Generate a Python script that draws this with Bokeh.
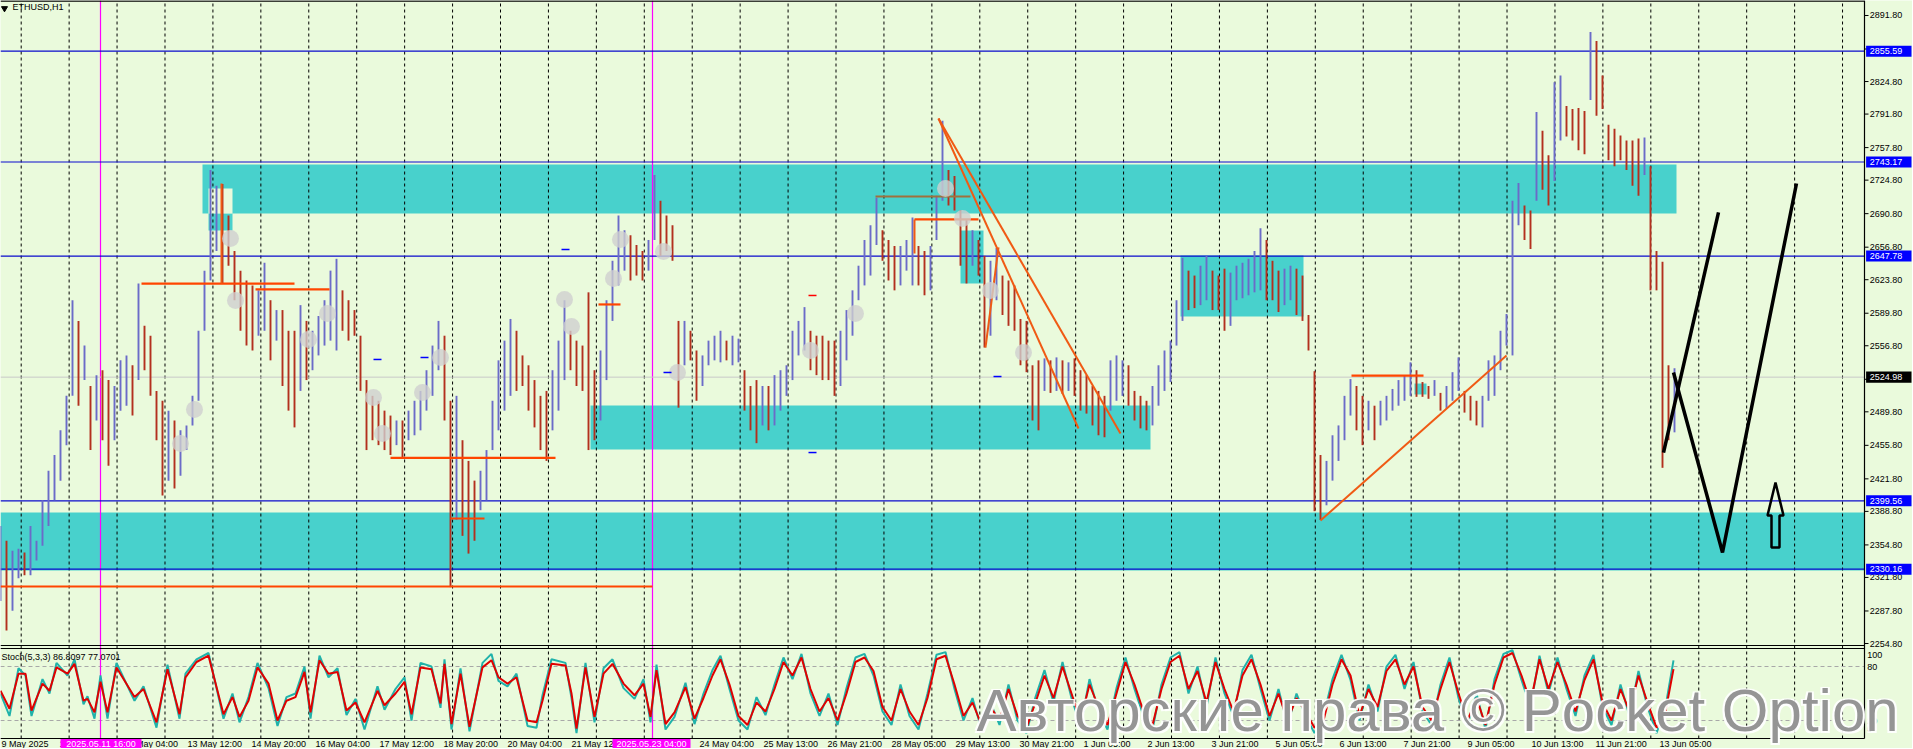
from bokeh.plotting import figure
from bokeh.models import Range1d, ColumnDataSource
from bokeh.core.properties import value
from bokeh.embed import file_html
from bokeh.resources import INLINE

# ---------------- data ----------------
SYMBOL = "ETHUSD,H1"
STOCH_TITLE = "Stoch(5,3,3) 86.8097 77.0701"
WATERMARK = "Авторские права © Pocket Option"

BAR_HOURS = 3  # one entry every 3 hours, hour 0 = left edge of the chart
price_bars = [  # (high, low)
    (2374, 2298), (2359, 2268), (2349, 2288), (2351, 2321), (2347, 2324), (2374, 2324), (2359, 2339), (2400, 2354),
    (2430, 2374), (2446, 2400), (2471, 2420), (2506, 2456), (2603, 2506), (2582, 2496), (2557, 2522), (2516, 2451),
    (2527, 2481), (2532, 2461), (2522, 2435), (2516, 2461), (2542, 2491), (2547, 2496), (2537, 2486), (2620, 2522),
    (2577, 2532), (2567, 2506), (2511, 2461), (2501, 2405), (2491, 2420), (2481, 2412), (2471, 2425), (2476, 2451),
    (2506, 2476), (2572, 2501), (2633, 2572), (2735, 2623), (2719, 2653), (2721, 2620), (2689, 2638), (2653, 2603),
    (2633, 2572), (2623, 2557), (2618, 2552), (2613, 2567), (2641, 2572), (2603, 2542), (2593, 2562), (2593, 2516),
    (2572, 2491), (2572, 2474), (2598, 2511), (2582, 2522), (2572, 2532), (2587, 2547), (2603, 2557), (2633, 2562),
    (2645, 2552), (2613, 2572), (2603, 2562), (2593, 2567), (2567, 2511), (2522, 2451), (2506, 2461), (2501, 2456),
    (2491, 2451), (2486, 2446), (2481, 2456), (2481, 2442), (2491, 2461), (2501, 2466), (2511, 2471), (2532, 2491),
    (2557, 2506), (2582, 2532), (2567, 2481), (2501, 2312), (2506, 2380), (2461, 2364), (2440, 2346), (2420, 2359),
    (2430, 2390), (2451, 2400), (2501, 2451), (2542, 2471), (2562, 2491), (2584, 2506), (2572, 2511), (2547, 2516),
    (2537, 2491), (2522, 2474), (2506, 2451), (2511, 2440), (2532, 2471), (2562, 2491), (2603, 2522), (2572, 2532),
    (2562, 2516), (2557, 2511), (2611, 2451), (2532, 2461), (2552, 2481), (2603, 2522), (2643, 2582), (2689, 2618),
    (2674, 2633), (2669, 2623), (2659, 2628), (2653, 2623), (2664, 2633), (2730, 2664), (2704, 2648), (2689, 2653),
    (2679, 2643), (2582, 2494), (2582, 2537), (2572, 2542), (2552, 2501), (2547, 2516), (2562, 2537), (2567, 2542),
    (2572, 2540), (2562, 2542), (2567, 2537), (2564, 2540), (2532, 2491), (2516, 2471), (2522, 2458), (2516, 2476),
    (2516, 2471), (2527, 2476), (2532, 2491), (2537, 2506), (2572, 2522), (2582, 2547), (2596, 2552), (2572, 2532),
    (2567, 2527), (2567, 2522), (2562, 2522), (2562, 2506), (2572, 2516), (2593, 2542), (2613, 2567), (2638, 2603),
    (2664, 2618), (2679, 2628), (2707, 2659), (2674, 2643), (2664, 2623), (2658, 2613), (2658, 2618), (2664, 2633),
    (2687, 2618), (2658, 2618), (2653, 2608), (2658, 2613), (2709, 2664), (2785, 2704), (2735, 2699), (2729, 2694),
    (2694, 2638), (2684, 2620), (2674, 2638), (2664, 2628), (2648, 2555), (2643, 2567), (2656, 2603), (2628, 2588),
    (2623, 2577), (2618, 2572), (2584, 2537), (2582, 2530), (2537, 2481), (2542, 2471), (2544, 2511), (2542, 2509),
    (2545, 2511), (2542, 2508), (2540, 2511), (2544, 2506), (2532, 2491), (2527, 2488), (2516, 2476), (2511, 2466),
    (2506, 2464), (2542, 2491), (2547, 2501), (2542, 2506), (2537, 2496), (2511, 2481), (2506, 2473), (2501, 2471),
    (2516, 2476), (2537, 2496), (2552, 2511), (2562, 2520), (2603, 2557), (2646, 2582), (2633, 2593), (2628, 2595),
    (2638, 2598), (2648, 2603), (2633, 2593), (2628, 2593), (2635, 2572), (2631, 2577), (2638, 2603), (2641, 2605),
    (2645, 2608), (2653, 2611), (2676, 2613), (2664, 2603), (2643, 2603), (2633, 2591), (2635, 2598), (2638, 2603),
    (2635, 2588), (2628, 2582), (2588, 2552), (2531, 2389), (2446, 2380), (2440, 2395), (2466, 2420), (2476, 2440),
    (2506, 2461), (2523, 2486), (2516, 2471), (2506, 2456), (2501, 2471), (2496, 2461), (2501, 2476), (2506, 2481),
    (2513, 2491), (2522, 2496), (2527, 2501), (2540, 2506), (2532, 2505), (2520, 2505), (2516, 2503), (2522, 2506),
    (2509, 2491), (2516, 2493), (2530, 2501), (2545, 2511), (2511, 2489), (2506, 2481), (2501, 2476), (2506, 2474),
    (2542, 2501), (2547, 2506), (2572, 2532), (2589, 2557), (2704, 2547), (2722, 2679), (2699, 2664), (2694, 2655),
    (2794, 2704), (2775, 2715), (2750, 2699), (2824, 2724), (2831, 2765), (2800, 2769), (2797, 2765), (2798, 2755),
    (2795, 2751), (2875, 2806), (2866, 2790), (2831, 2797), (2781, 2745), (2777, 2739), (2770, 2745), (2765, 2735),
    (2765, 2719), (2767, 2709), (2768, 2730), (2739, 2613), (2653, 2613), (2642, 2433), (2537, 2461), (2534, 2469),
]

level_prices = [2855.59, 2743.17, 2647.78, 2399.56, 2330.16]
bid_price = 2524.98
price_ticks = [2891.8, 2857.8, 2824.8, 2791.8, 2757.8, 2724.8, 2690.8, 2656.8, 2623.8, 2589.8, 2556.8, 2522.8,
               2489.8, 2455.8, 2421.8, 2388.8, 2354.8, 2321.8, 2287.8, 2254.8]

# supply / demand zones: (start hour, end hour, top, bottom)
zones = [(101, 838, 2740.7, 2691.0), (295, 575, 2496.2, 2451.6), (0, 932, 2387.7, 2328.8),
         (590, 651.5, 2648.4, 2586.5), (480, 491.5, 2673.7, 2619.9), (707, 713, 2518.5, 2507.4),
         (104, 116, 2691.0, 2673.7)]
zone_gap = [(104, 116, 2716.3, 2691.0)]

# orange horizontal levels: (start hour, end hour, price)
orange_levels = [(0, 326, 2312.6), (70.5, 147, 2619.9), (127.5, 164.5, 2613.9), (195, 277.5, 2443.0),
                 (225, 242, 2381.6), (299, 310, 2598.7), (457, 489, 2684.9), (675.5, 711.5, 2526.6)]
brown_levels = [(437.5, 485, 2708.2)]
# orange sloped lines: (hour0, price0, hour1, price1)
orange_trends = [(469, 2787.3, 560, 2467.8), (469, 2787.3, 539, 2472.9), (660, 2379.6, 753, 2546.9),
                 (457, 2684.9, 457, 2650.4), (110.5, 2721.4, 110.5, 2619.9), (492.5, 2555.0, 499, 2656.5)]

# hand-drawn forecast paths
forecast_a_h = [831.5, 859]
forecast_a_p = [2448.5, 2692.0]
forecast_b_h = [836.5, 861, 898]
forecast_b_p = [2529.7, 2347.1, 2721.4]
arrow_h = [887.5, 891.5, 889.5, 889.5, 885.5, 885.5, 883.5, 887.5]
arrow_p = [2418.1, 2384.6, 2384.6, 2352.2, 2352.2, 2384.6, 2384.6, 2418.1]

# trade markers
marker_h = [115, 117.5, 97, 90, 154, 163.5, 186.5, 191, 211, 220, 282, 285.5, 306.5, 310, 331.5, 338.5,
            405, 427.5, 472.5, 481, 495, 511.5]
marker_p = [2665.6, 2602.7, 2492.2, 2457.7, 2563.2, 2589.5, 2504.3, 2467.8, 2509.4, 2544.9, 2603.7, 2576.3,
            2625.0, 2664.6, 2652.4, 2529.7, 2552.0, 2589.5, 2716.3, 2685.9, 2612.9, 2549.9]
dash_blue_h = [188.5, 212, 282.5, 333.5, 406, 498.5]
dash_blue_p = [2542.9, 2544.9, 2654.4, 2529.7, 2448.5, 2525.6]
dash_red_h = [406]
dash_red_p = [2607.8]

# stochastic (hour, %K, %D)
stoch = [
    (0, 50, 53), (4.5, 25, 33), (9, 78, 72), (12.5, 70, 72), (15.5, 25, 31), (21, 66, 61), (24.5, 50, 53),
    (28, 84, 79), (33.5, 70, 72), (37, 88, 83), (41.5, 38, 42), (43.5, 47, 44), (47, 22, 29), (50, 70, 63),
    (53.5, 22, 29), (58, 84, 79), (67, 42, 46), (71.5, 58, 55), (78, 12, 18), (83.5, 82, 77), (89.5, 22, 27),
    (92.5, 72, 68), (98, 88, 85), (104, 95, 92), (111.5, 22, 27), (116, 50, 46), (119.5, 18, 24), (124, 46, 42),
    (128.5, 84, 79), (134, 56, 61), (138.5, 14, 20), (143, 46, 42), (147.5, 50, 46), (152, 80, 74), (155, 22, 29),
    (159.5, 92, 87), (164, 68, 72), (168.5, 78, 74), (173, 26, 31), (177.5, 44, 40), (182, 10, 18), (188.5, 58, 53),
    (192, 32, 37), (197.5, 55, 50), (202, 68, 63), (205.5, 20, 27), (210, 84, 79), (215.5, 80, 77), (220, 34, 39),
    (222, 88, 83), (225.5, 10, 16), (230, 78, 72), (234.5, 8, 13), (241, 84, 79), (245.5, 94, 87), (249, 64, 68),
    (253.5, 58, 61), (258, 72, 68), (263.5, 14, 20), (268, 12, 18), (271, 48, 42), (275.5, 88, 83), (282.5, 84, 81),
    (285.5, 45, 50), (288, 6, 11), (292.5, 84, 79), (297, 18, 24), (301.5, 78, 72), (306, 88, 83), (311.5, 56, 61),
    (317, 44, 48), (321.5, 66, 61), (325, 18, 24), (328, 82, 76), (332.5, 10, 16), (337, 24, 29), (342.5, 62, 57),
    (347, 16, 22), (351.5, 50, 45), (356, 76, 70), (360, 92, 88), (364.5, 55, 60), (369, 20, 25), (373.5, 10, 15),
    (378, 46, 40), (382.5, 26, 30), (387, 60, 55), (391.5, 90, 85), (396, 66, 70), (400.5, 94, 90), (405, 50, 55),
    (409.5, 25, 30), (414, 50, 45), (418.5, 15, 20), (423, 56, 50), (427.5, 90, 85), (432, 94, 90), (436.5, 70, 75),
    (441, 30, 35), (445.5, 15, 20), (450, 60, 55), (454.5, 25, 30), (459, 10, 15), (463.5, 50, 45), (468, 93, 88),
    (472.5, 96, 92), (477, 55, 60), (481.5, 20, 25), (486, 45, 40), (490.5, 10, 15), (495, 40, 35), (499.5, 15, 20),
    (504, 60, 55), (508.5, 20, 25), (513, 6, 12), (517.5, 46, 40), (522, 76, 70), (526.5, 40, 45), (531, 85, 80),
    (535.5, 45, 50), (540, 14, 20), (544.5, 66, 60), (549, 30, 35), (553.5, 10, 15), (558, 56, 50), (562.5, 90, 85),
    (567, 55, 60), (571.5, 25, 30), (576, 10, 15), (580.5, 60, 55), (585, 90, 85), (589.5, 96, 92), (594, 50, 55),
    (598.5, 80, 75), (603, 35, 40), (607.5, 90, 85), (612, 50, 55), (616.5, 25, 30), (621, 76, 70), (625.5, 93, 88),
    (630, 55, 60), (634.5, 20, 25), (639, 55, 50), (643.5, 15, 20), (648, 50, 45), (652.5, 25, 30), (657, 6, 12),
    (661.5, 25, 20), (666, 66, 60), (670.5, 93, 88), (675, 65, 70), (679.5, 20, 25), (684, 60, 55), (688.5, 30, 35),
    (693, 80, 75), (697.5, 93, 88), (702, 55, 60), (706.5, 85, 80), (711, 30, 35), (715.5, 15, 20), (720, 60, 55),
    (724.5, 90, 85), (729, 45, 50), (733.5, 15, 20), (738, 50, 45), (742.5, 10, 15), (747, 66, 60), (751.5, 94, 90),
    (756, 98, 95), (760.5, 65, 70), (765, 35, 40), (769.5, 92, 88), (774, 50, 55), (778.5, 90, 85), (783, 55, 60),
    (787.5, 25, 30), (792, 70, 65), (796.5, 93, 88), (801, 35, 40), (805.5, 15, 20), (810, 60, 55), (814.5, 25, 30),
    (819, 75, 70), (823.5, 35, 40), (828, 6, 12), (832.5, 35, 30), (836.5, 86.81, 77.07),
]
stoch_levels = [80, 20]
stoch_axis_labels = ["100", "80", "20", "0"]
stoch_axis_label_pos = [93.3, 78.9, 20.0, 11.1]

date_labels = ["9 May 2025", "10 May 20:00", "12 May 04:00", "13 May 12:00", "14 May 20:00", "16 May 04:00",
               "17 May 12:00", "18 May 20:00", "20 May 04:00", "21 May 12:00", "22 May 20:00", "24 May 04:00",
               "25 May 13:00", "26 May 21:00", "28 May 05:00", "29 May 13:00", "30 May 21:00", "1 Jun 05:00",
               "2 Jun 13:00", "3 Jun 21:00", "5 Jun 05:00", "6 Jun 13:00", "7 Jun 21:00", "9 Jun 05:00",
               "10 Jun 13:00", "11 Jun 21:00", "13 Jun 05:00"]
date_label_hours = [0.5] + [29.5 + 32 * i for i in range(len(date_labels) - 1)]
period_sep_hours = [50, 326]
period_sep_labels = ["2025.05.11 16:00", "2025.05.23 04:00"]
period_sep_box = [(30, 70.5), (306, 345)]

# ---------------- style / layout ----------------
BG = "#EAFADC"
CYAN = "#48D1CC"
BLUE = "#0A0ACD"
ORANGE = "#FF4500"
BULL = "#6B6BC8"
BEAR = "#B3301E"
FONT = "Liberation Sans"

W, H = 1912, 748
X_END = 932            # right border of the chart area (hours)
X_MAX = W / 2.0        # 2 px per hour
P_TOP = 2907.0
PX_PER_PRICE = 0.9859
P_BOT = P_TOP - H / PX_PER_PRICE
S_PX = 0.9                          # px per stochastic unit
S_TOP = 738 / S_PX
S_BOT = (738 - H) / S_PX
TAG_HALF = 5.6                      # half height of price tags, in price units

p = figure(width=W, height=H, x_range=Range1d(0, X_MAX), y_range=Range1d(P_BOT, P_TOP),
           output_backend="svg", toolbar_location=None, x_axis_location=None, y_axis_location=None,
           min_border=0)
p.extra_y_ranges = {"stoch": Range1d(S_BOT, S_TOP)}
p.background_fill_color = BG
p.border_fill_color = BG
p.outline_line_color = None
p.xgrid.grid_line_color = None
p.ygrid.grid_line_color = None

# zones
p.quad(left=[z[0] for z in zones], right=[z[1] for z in zones], top=[z[2] for z in zones],
       bottom=[z[3] for z in zones], fill_color=CYAN, line_color=None)
p.quad(left=[z[0] for z in zone_gap], right=[z[1] for z in zone_gap], top=[z[2] for z in zone_gap],
       bottom=[z[3] for z in zone_gap], fill_color=BG, line_color=None)

# vertical dashed grid (spans main + stochastic panels)
grid_h = [10.35 + 23.965 * k for k in range(39)]
p.segment(x0=grid_h, x1=grid_h, y0=[0] * len(grid_h), y1=[S_TOP] * len(grid_h), y_range_name="stoch",
          line_color="#000000", line_dash="3 3", line_width=1)
# stochastic level lines
p.segment(x0=[0] * 2, x1=[X_END] * 2, y0=stoch_levels, y1=stoch_levels, y_range_name="stoch",
          line_color="#A8A8A8", line_dash="4 3", line_width=1)
# period separators
p.segment(x0=period_sep_hours, x1=period_sep_hours, y0=[0, 0], y1=[S_TOP, S_TOP], y_range_name="stoch",
          line_color="#FF00FF", line_width=1.2)

# levels
p.segment(x0=[0], x1=[X_END], y0=[bid_price], y1=[bid_price], line_color="#C8C8C8", line_width=1)
p.segment(x0=[0] * len(level_prices), x1=[X_END] * len(level_prices), y0=level_prices, y1=level_prices,
          line_color=BLUE, line_width=1.2)

# candles
hours, highs, lows, colors = [], [], [], []
prev_mid = None
for i, (hi, lo) in enumerate(price_bars):
    mid = (hi + lo) / 2
    colors.append(BULL if (prev_mid is None or mid >= prev_mid) else BEAR)
    prev_mid = mid
    hours.append(i * BAR_HOURS)
    highs.append(hi)
    lows.append(lo)
src = ColumnDataSource(dict(x=hours, hi=highs, lo=lows, c=colors))
p.segment(x0="x", x1="x", y0="lo", y1="hi", line_color="c", line_width=1.9, source=src)

# orange / brown drawings
p.segment(x0=[l[0] for l in orange_levels], x1=[l[1] for l in orange_levels],
          y0=[l[2] for l in orange_levels], y1=[l[2] for l in orange_levels], line_color=ORANGE, line_width=2.2)
p.segment(x0=[l[0] for l in brown_levels], x1=[l[1] for l in brown_levels],
          y0=[l[2] for l in brown_levels], y1=[l[2] for l in brown_levels], line_color="#A0703C", line_width=2.2)
p.segment(x0=[t[0] for t in orange_trends], y0=[t[1] for t in orange_trends],
          x1=[t[2] for t in orange_trends], y1=[t[3] for t in orange_trends], line_color="#F05A14", line_width=2)

# trade markers
p.scatter(marker_h, marker_p, size=17, fill_color="#CFCFCF", line_color=None, fill_alpha=0.8)
p.scatter(dash_blue_h, dash_blue_p, marker="dash", size=8, line_color="#0000FF", line_width=1.5)
p.scatter(dash_red_h, dash_red_p, marker="dash", size=8, line_color="#FF0000", line_width=1.5)

# forecast drawings
p.line(forecast_a_h, forecast_a_p, line_color="#000000", line_width=3.5)
p.line(forecast_b_h, forecast_b_p, line_color="#000000", line_width=3.5)
p.line(arrow_h, arrow_p, line_color="#000000", line_width=2.5)

# stochastic
sh = [s[0] for s in stoch]
p.line(sh, [s[1] for s in stoch], y_range_name="stoch", line_color="#20B2AA", line_width=2)
p.line(sh, [s[2] for s in stoch], y_range_name="stoch", line_color="#E00000", line_width=2)

# panel borders
p.segment(x0=[0], x1=[X_END], y0=[P_TOP - 0.6], y1=[P_TOP - 0.6], line_color="#000000", line_width=1.5)
p.segment(x0=[0], x1=[X_END], y0=[P_TOP - 645 / PX_PER_PRICE], y1=[P_TOP - 645 / PX_PER_PRICE],
          line_color="#000000", line_width=1.2)
p.segment(x0=[0, 0], x1=[X_END, X_END], y0=[100, 0], y1=[100, 0], y_range_name="stoch",
          line_color="#000000", line_width=1.2)
p.segment(x0=[X_END], x1=[X_END], y0=[0], y1=[S_TOP], y_range_name="stoch", line_color="#000000", line_width=1.2)

# price scale
p.segment(x0=[X_END] * len(price_ticks), x1=[X_END + 2] * len(price_ticks), y0=price_ticks, y1=price_ticks,
          line_color="#000000", line_width=1)
p.text(x=[X_END + 2.6] * len(price_ticks), y=price_ticks, text=[f"{t:.2f}" for t in price_ticks],
       text_font=value(FONT), text_font_size="9px", text_baseline="middle", text_color="#000000")
tag_prices = level_prices + [bid_price]
tag_colors = ["#0000FF"] * len(level_prices) + ["#000000"]
p.quad(left=[X_END + 0.8] * len(tag_prices), right=[X_END + 23.5] * len(tag_prices),
       top=[t + TAG_HALF for t in tag_prices], bottom=[t - TAG_HALF for t in tag_prices],
       fill_color=tag_colors, line_color=None)
p.text(x=[X_END + 2.6] * len(tag_prices), y=tag_prices, text=[f"{t:.2f}" for t in tag_prices],
       text_font=value(FONT), text_font_size="9px", text_baseline="middle", text_color="#FFFFFF")
p.text(x=[X_END + 1.4] * len(stoch_axis_labels), y=stoch_axis_label_pos, y_range_name="stoch",
       text=stoch_axis_labels, text_font=value(FONT), text_font_size="9px", text_baseline="middle",
       text_color="#000000")

# texts
p.scatter([2], [2899], marker="inverted_triangle", size=6, color="#000000")
p.text(x=[6], y=[P_TOP - 1.5], text=[SYMBOL], text_font=value(FONT), text_font_size="9px",
       text_baseline="top", text_color="#000000")
p.text(x=[0.5], y=[96.5], y_range_name="stoch", text=[STOCH_TITLE], text_font=value(FONT),
       text_font_size="9px", text_baseline="top", text_color="#000000")
p.text(x=date_label_hours, y=[-1.1] * len(date_labels), y_range_name="stoch", text=date_labels,
       text_font=value(FONT), text_font_size="9px", text_baseline="top", text_color="#000000")
p.quad(left=[b[0] for b in period_sep_box], right=[b[1] for b in period_sep_box], top=[-0.6, -0.6],
       bottom=[S_BOT, S_BOT], y_range_name="stoch", fill_color="#FF00FF", line_color=None)
p.text(x=[(b[0] + b[1]) / 2 for b in period_sep_box], y=[-1.1, -1.1], y_range_name="stoch",
       text=period_sep_labels, text_font=value(FONT), text_font_size="9px", text_baseline="top",
       text_align="center", text_color="#FFFFFF")

# watermark (top of its text box at about y = 677 px)
wm_h = 488
wm_v = 67.8
for dx, dy in [(-1, 1.7), (1, -1.7), (-1, -1.7), (1, 1.7)]:
    p.text(x=[wm_h + dx], y=[wm_v + dy], y_range_name="stoch", text=[WATERMARK], text_font=value(FONT),
           text_font_size="60px", text_color="#FFFFFF", text_alpha=0.9, text_baseline="top")
p.text(x=[wm_h], y=[wm_v], y_range_name="stoch", text=[WATERMARK], text_font=value(FONT),
       text_font_size="60px", text_color="#8A8A8A", text_alpha=0.9, text_baseline="top")

open("out.html", "w").write(file_html(p, INLINE))
